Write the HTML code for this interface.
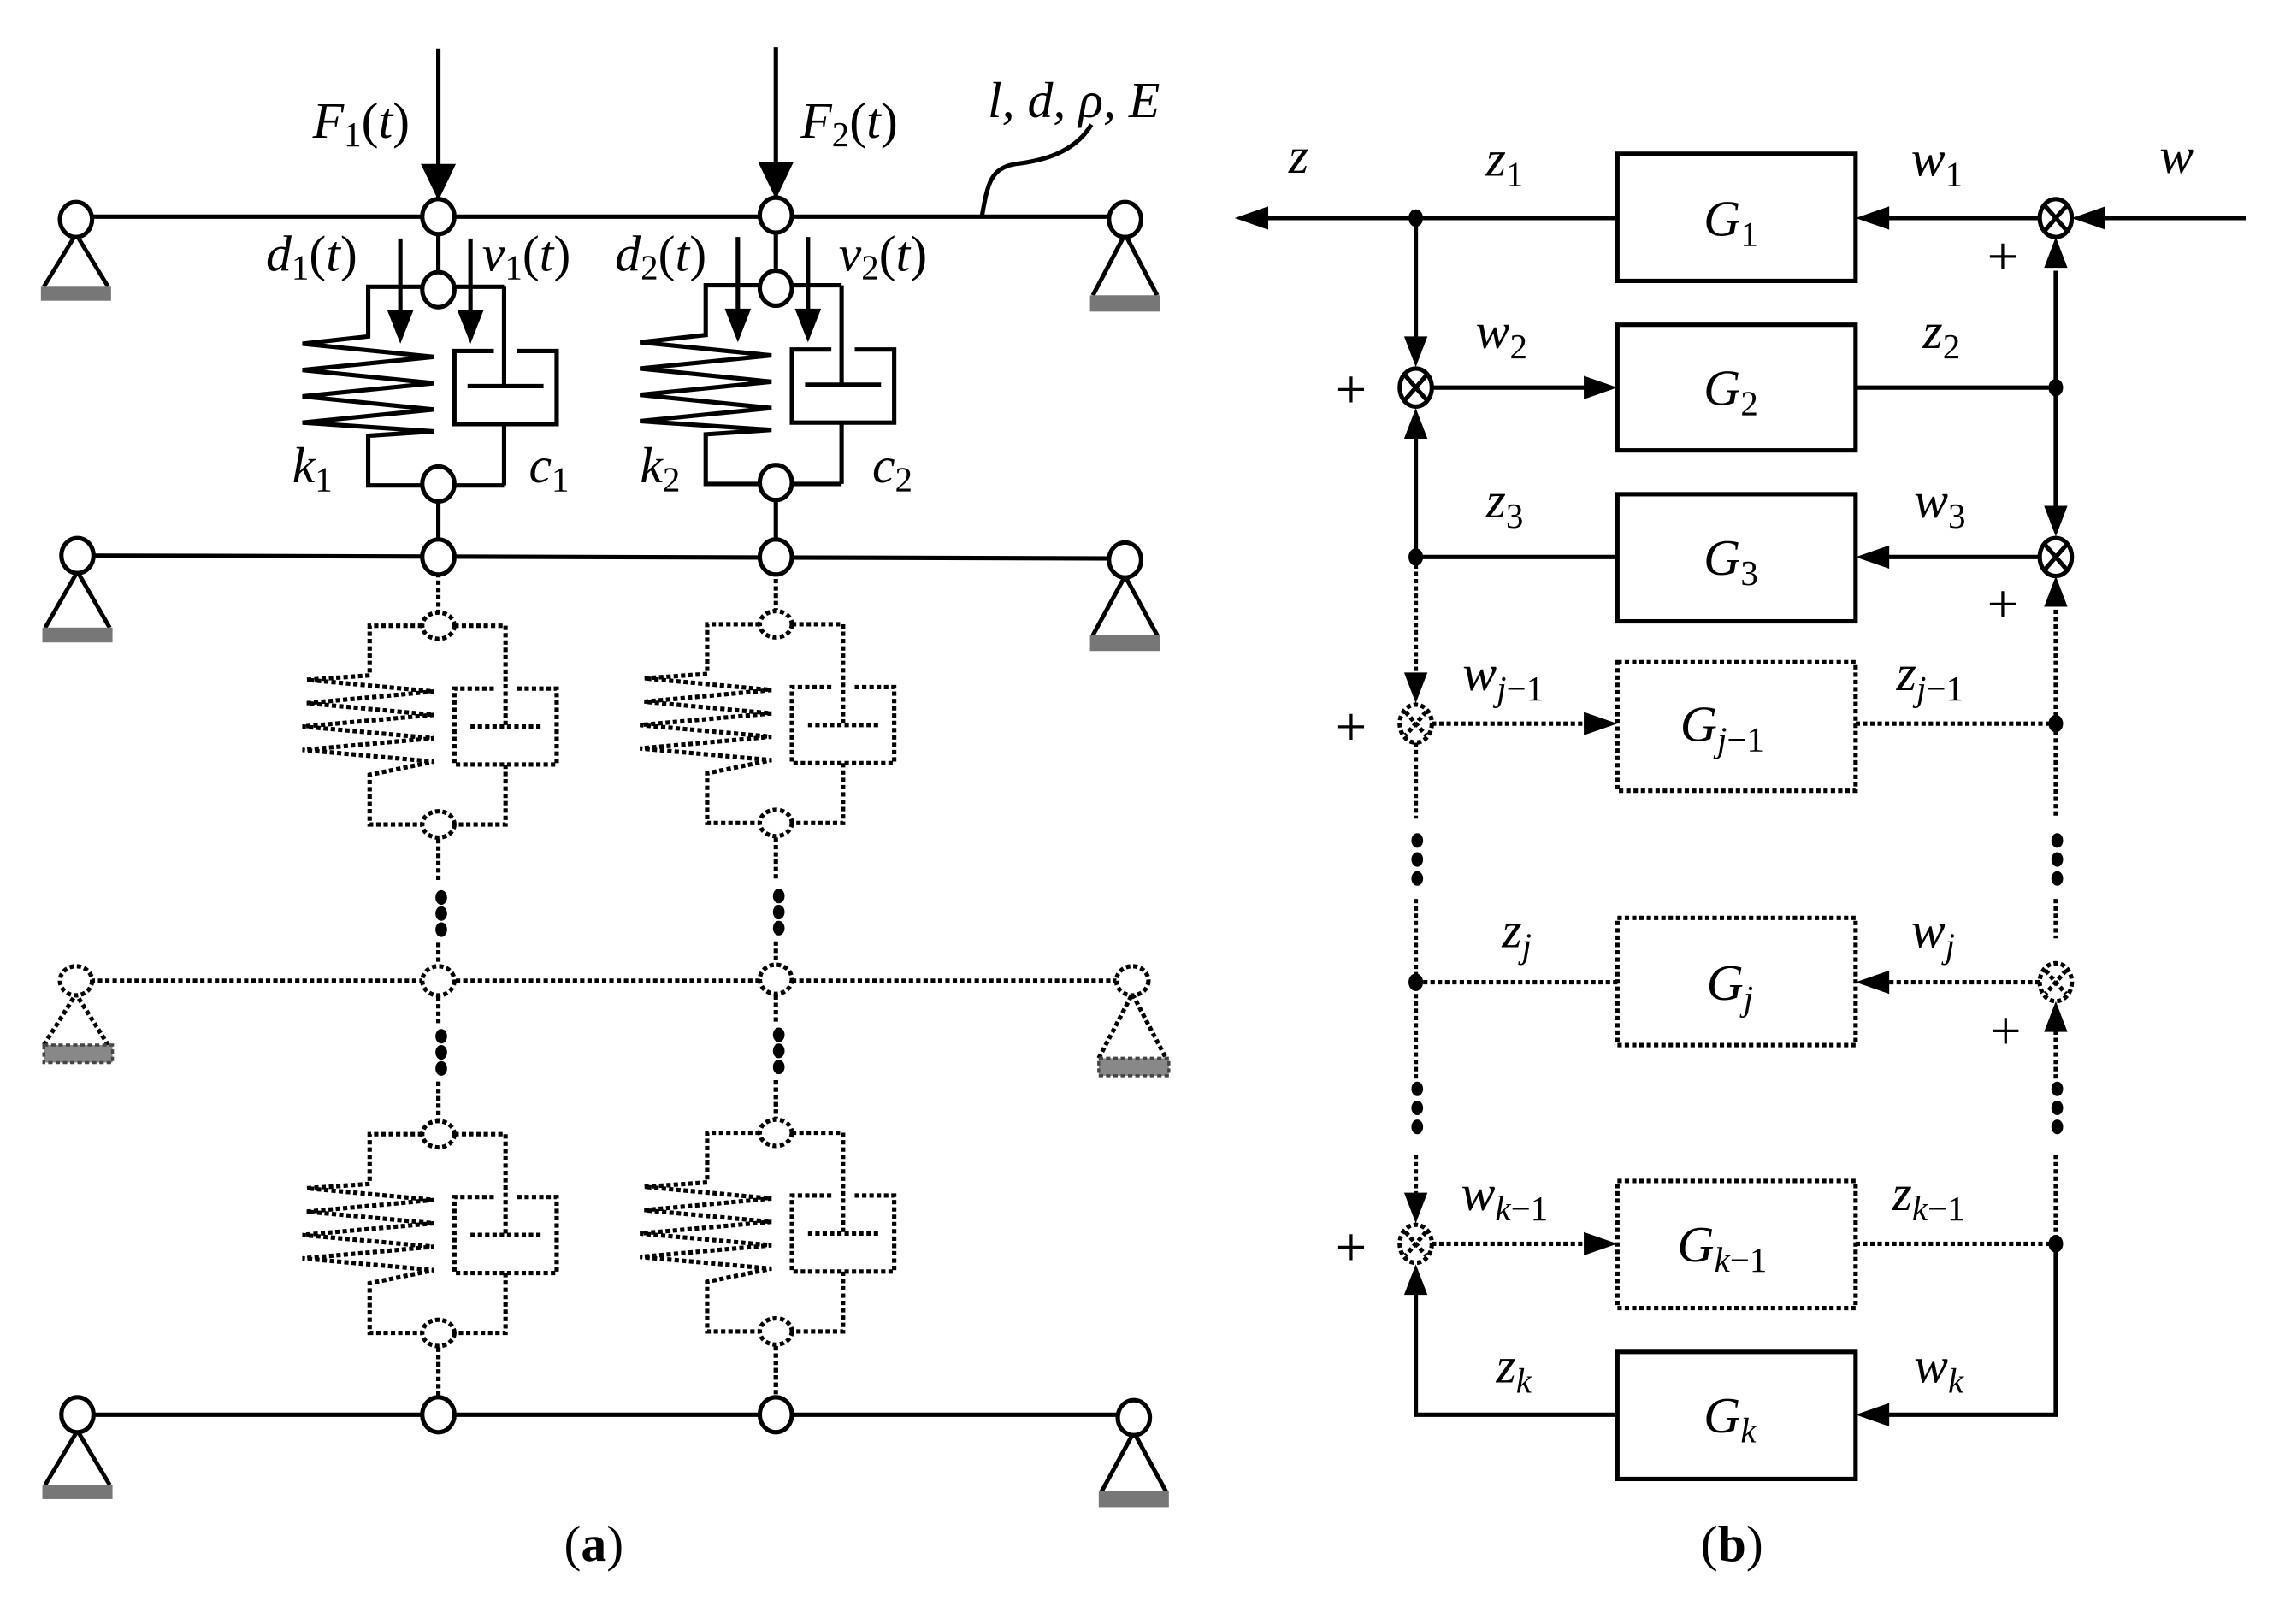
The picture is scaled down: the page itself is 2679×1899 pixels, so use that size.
<!DOCTYPE html>
<html><head><meta charset="utf-8"><style>
html,body{margin:0;padding:0;background:#fff}
svg{display:block}
text{font-family:"Liberation Serif",serif;font-style:italic;fill:#000}
.u{font-style:normal}
</style></head><body>
<svg width="2679" height="1899" viewBox="0 0 1568 1111" xmlns="http://www.w3.org/2000/svg">
<defs>
<g id="solidmod">
  <line x1="300" y1="33" x2="300" y2="136" stroke="#000" stroke-width="3"/>
  <polygon points="288,112 312,112 300,137" fill="#000"/>
  <line x1="300" y1="158" x2="300" y2="186" stroke="#000" stroke-width="3"/>
  <polyline points="345,196 252,196 252,230 207,235 297,244 207,253 297,262 207,271 297,280 207,289 297,295 252,298 252,332 345,332" fill="none" stroke="#000" stroke-width="3"/>
  <line x1="345" y1="196" x2="345" y2="264" stroke="#000" stroke-width="3"/>
  <line x1="320" y1="264" x2="372" y2="264" stroke="#000" stroke-width="3"/>
  <polyline points="338,240 311,240 311,290 381,290 381,240 354,240" fill="none" stroke="#000" stroke-width="3"/>
  <line x1="345" y1="290" x2="345" y2="332" stroke="#000" stroke-width="3"/>
  <line x1="300" y1="343" x2="300" y2="370" stroke="#000" stroke-width="3"/>
  <line x1="274" y1="163" x2="274" y2="215" stroke="#000" stroke-width="3"/>
  <polygon points="265,212 283,212 274,235" fill="#000"/>
  <line x1="322" y1="163" x2="322" y2="215" stroke="#000" stroke-width="3"/>
  <polygon points="313,212 331,212 322,235" fill="#000"/>
  <ellipse cx="300" cy="148" rx="11" ry="12" fill="#fff" stroke="#000" stroke-width="3"/>
  <ellipse cx="300" cy="198" rx="11" ry="12" fill="#fff" stroke="#000" stroke-width="3"/>
  <ellipse cx="300" cy="331" rx="11" ry="12" fill="#fff" stroke="#000" stroke-width="3"/>
</g>
<g id="dotmod" fill="none" stroke="#000" stroke-width="3" stroke-dasharray="3 2">
  <line x1="300" y1="392" x2="300" y2="418"/>
  <polyline points="289,428 253,428 253,462"/>
  <polyline points="311,428 346,428 346,497"/>
  <polyline points="253,462 210,465 297,473 210,481 297,489 207,497 297,505 207,513 297,521 253,530 253,564 289,564"/>
  <polyline points="338,471 311,471 311,523 381,523 381,471 354,471"/>
  <line x1="322" y1="497" x2="372" y2="497"/>
  <polyline points="346,523 346,564 311,564"/>
  <ellipse cx="300" cy="428" rx="11" ry="9"/>
  <ellipse cx="300" cy="564" rx="11" ry="9"/>
  <line x1="300" y1="574" x2="300" y2="603"/>
</g>
<g id="col">
  <use href="#solidmod"/>
  <use href="#dotmod"/>
  <g fill="#000"><ellipse cx="302" cy="614" rx="4" ry="5"/><ellipse cx="302" cy="625" rx="4" ry="5"/><ellipse cx="302" cy="636" rx="4" ry="5"/>
  <ellipse cx="302" cy="709" rx="4" ry="5"/><ellipse cx="302" cy="720" rx="4" ry="5"/><ellipse cx="302" cy="731" rx="4" ry="5"/></g>
  <line x1="300" y1="645" x2="300" y2="660" stroke="#000" stroke-width="3" stroke-dasharray="3 2"/>
  <line x1="300" y1="682" x2="300" y2="700" stroke="#000" stroke-width="3" stroke-dasharray="3 2"/>
  <ellipse cx="300" cy="671" rx="11" ry="10" fill="#fff" stroke="#000" stroke-width="3" stroke-dasharray="3 2"/>
  <line x1="300" y1="740" x2="300" y2="766" stroke="#000" stroke-width="3" stroke-dasharray="3 2"/>
  <use href="#dotmod" transform="translate(0,348)"/>
  <line x1="300" y1="922" x2="300" y2="956" stroke="#000" stroke-width="3" stroke-dasharray="3 2"/>
</g>
<g id="sup">
  <polyline points="-22,45 0,0 22,45" fill="none" stroke="#000" stroke-width="3"/>
  <rect x="-24" y="45" width="48" height="12" fill="#777"/>
</g>
</defs>

<!-- beams -->
<line x1="52" y1="148" x2="770" y2="148" stroke="#000" stroke-width="3"/>
<line x1="52" y1="380" x2="770" y2="382" stroke="#000" stroke-width="3"/>
<line x1="52" y1="671" x2="775" y2="671" stroke="#000" stroke-width="3" stroke-dasharray="3 2"/>
<line x1="52" y1="968" x2="775" y2="968" stroke="#000" stroke-width="3"/>
<path d="M672,148 C676,125 678,115 695,112 C712,110 735,105 747,85" fill="none" stroke="#000" stroke-width="3"/>

<use href="#col"/>
<use href="#col" transform="translate(231,-1)"/>

<!-- beam nodes -->
<g fill="#fff" stroke="#000" stroke-width="3">
<ellipse cx="300" cy="381" rx="11" ry="12"/><ellipse cx="531" cy="381" rx="11" ry="12"/>
<ellipse cx="300" cy="968" rx="11" ry="12"/><ellipse cx="531" cy="968" rx="11" ry="12"/>
</g>

<!-- supports -->
<use href="#sup" transform="translate(52,160) scale(1,0.8)"/>
<use href="#sup" transform="translate(770,160) scale(1,0.93)"/>
<use href="#sup" transform="translate(53,391) scale(1,0.85)"/>
<use href="#sup" transform="translate(770,394) scale(1,0.9)"/>
<use href="#sup" transform="translate(53,979) scale(1,0.82)"/>
<use href="#sup" transform="translate(776,980) scale(1,0.9)"/>
<g stroke="#000" stroke-width="3" fill="none" stroke-dasharray="3 2">
<polyline points="30,715 52,680 74,715"/><polyline points="752,724 775,680 798,724"/>
</g>
<rect x="30" y="715" width="47" height="12" fill="#888" stroke="#444" stroke-width="2" stroke-dasharray="3 2"/>
<rect x="752" y="724" width="48" height="12" fill="#888" stroke="#444" stroke-width="2" stroke-dasharray="3 2"/>
<g fill="#fff" stroke="#000" stroke-width="3">
<ellipse cx="52" cy="150" rx="11" ry="12"/><ellipse cx="770" cy="150" rx="11" ry="12"/>
<ellipse cx="53" cy="380" rx="11" ry="12"/><ellipse cx="770" cy="383" rx="11" ry="12"/>
<ellipse cx="53" cy="968" rx="11" ry="12"/><ellipse cx="776" cy="970" rx="11" ry="12"/>
</g>
<g fill="#fff" stroke="#000" stroke-width="3" stroke-dasharray="3 2">
<ellipse cx="52" cy="671" rx="11" ry="10"/><ellipse cx="775" cy="671" rx="11" ry="10"/>
</g>

<!-- labels a -->
<g font-size="35">
<text x="214" y="94">F<tspan class="u" font-size="24" dy="6">1</tspan><tspan class="u" dy="-6">(</tspan>t<tspan class="u">)</tspan></text>
<text x="548" y="94">F<tspan class="u" font-size="24" dy="6">2</tspan><tspan class="u" dy="-6">(</tspan>t<tspan class="u">)</tspan></text>
<text x="676" y="80">l, d, ρ, E</text>
<text x="182" y="185">d<tspan class="u" font-size="24" dy="6">1</tspan><tspan class="u" dy="-6">(</tspan>t<tspan class="u">)</tspan></text>
<text x="330" y="185">v<tspan class="u" font-size="24" dy="6">1</tspan><tspan class="u" dy="-6">(</tspan>t<tspan class="u">)</tspan></text>
<text x="421" y="185">d<tspan class="u" font-size="24" dy="6">2</tspan><tspan class="u" dy="-6">(</tspan>t<tspan class="u">)</tspan></text>
<text x="574" y="185">v<tspan class="u" font-size="24" dy="6">2</tspan><tspan class="u" dy="-6">(</tspan>t<tspan class="u">)</tspan></text>
<text x="200" y="330">k<tspan class="u" font-size="24" dy="6">1</tspan></text>
<text x="362" y="330">c<tspan class="u" font-size="24" dy="6">1</tspan></text>
<text x="438" y="330">k<tspan class="u" font-size="24" dy="6">2</tspan></text>
<text x="597" y="330">c<tspan class="u" font-size="24" dy="6">2</tspan></text>
<text class="u" x="386" y="1068">(<tspan font-weight="bold">a</tspan>)</text>
<text class="u" x="1164" y="1068">(<tspan font-weight="bold">b</tspan>)</text>
</g>

<!-- ===== block diagram ===== -->
<g stroke="#000" stroke-width="3" fill="none">
<rect x="1107" y="105" width="163" height="87"/>
<rect x="1107" y="222" width="163" height="86"/>
<rect x="1107" y="338" width="163" height="87"/>
<rect x="1107" y="925" width="163" height="87"/>
<line x1="1537" y1="149" x2="1440" y2="149"/>
<line x1="1396" y1="149" x2="1290" y2="149"/>
<line x1="1107" y1="149" x2="865" y2="149"/>
<line x1="969" y1="149" x2="969" y2="235"/>
<line x1="980" y1="265" x2="1088" y2="265"/>
<line x1="1270" y1="265" x2="1407" y2="265"/>
<line x1="1407" y1="265" x2="1407" y2="185"/>
<line x1="1407" y1="265" x2="1407" y2="352"/>
<line x1="1396" y1="381" x2="1290" y2="381"/>
<line x1="1107" y1="381" x2="969" y2="381"/>
<line x1="969" y1="381" x2="969" y2="295"/>
<polyline points="1107,968 969,968 969,885"/>
<polyline points="1407,851 1407,968 1290,968"/>
</g>
<g stroke="#000" stroke-width="3" fill="none" stroke-dasharray="3 2">
<rect x="1107" y="453" width="163" height="88"/>
<rect x="1107" y="628" width="163" height="87"/>
<rect x="1107" y="808" width="163" height="87"/>
<line x1="969" y1="381" x2="969" y2="465"/>
<line x1="980" y1="495" x2="1088" y2="495"/>
<line x1="1270" y1="495" x2="1407" y2="495"/>
<line x1="1407" y1="495" x2="1407" y2="412"/>
<line x1="969" y1="508" x2="969" y2="560"/>
<line x1="1407" y1="495" x2="1407" y2="560"/>
<line x1="969" y1="615" x2="969" y2="740"/>
<line x1="1407" y1="615" x2="1407" y2="642"/>
<line x1="1396" y1="672" x2="1290" y2="672"/>
<line x1="1107" y1="672" x2="969" y2="672"/>
<line x1="1407" y1="700" x2="1407" y2="740"/>
<line x1="969" y1="790" x2="969" y2="821"/>
<line x1="1407" y1="790" x2="1407" y2="851"/>
<line x1="980" y1="851" x2="1088" y2="851"/>
<line x1="1270" y1="851" x2="1407" y2="851"/>
</g>
<g fill="#000">
<polygon points="845,149 868,141 868,157"/>
<polygon points="1418,149 1441,141 1441,157"/>
<polygon points="1270,149 1293,141 1293,157"/>
<polygon points="969,251 961,230 977,230"/>
<polygon points="1107,265 1084,257 1084,273"/>
<polygon points="1407,162 1399,183 1415,183"/>
<polygon points="1407,367 1399,346 1415,346"/>
<polygon points="1270,381 1293,373 1293,389"/>
<polygon points="969,279 961,300 977,300"/>
<polygon points="969,481 961,460 977,460"/>
<polygon points="1107,495 1084,487 1084,503"/>
<polygon points="1407,394 1399,415 1415,415"/>
<polygon points="1270,672 1293,664 1293,680"/>
<polygon points="1407,685 1399,706 1415,706"/>
<polygon points="969,837 961,816 977,816"/>
<polygon points="1107,851 1084,843 1084,859"/>
<polygon points="969,865 961,886 977,886"/>
<polygon points="1270,968 1293,960 1293,976"/>
<ellipse cx="969" cy="149" rx="5" ry="6"/>
<ellipse cx="1407" cy="265" rx="5" ry="6"/>
<ellipse cx="969" cy="381" rx="5" ry="6"/>
<ellipse cx="1407" cy="495" rx="5" ry="6"/>
<ellipse cx="969" cy="672" rx="5" ry="6"/>
<ellipse cx="1407" cy="851" rx="5" ry="6"/>
<ellipse cx="970" cy="575" rx="4" ry="5"/><ellipse cx="970" cy="588" rx="4" ry="5"/><ellipse cx="970" cy="601" rx="4" ry="5"/>
<ellipse cx="1408" cy="575" rx="4" ry="5"/><ellipse cx="1408" cy="588" rx="4" ry="5"/><ellipse cx="1408" cy="601" rx="4" ry="5"/>
<ellipse cx="970" cy="745" rx="4" ry="5"/><ellipse cx="970" cy="758" rx="4" ry="5"/><ellipse cx="970" cy="771" rx="4" ry="5"/>
<ellipse cx="1408" cy="745" rx="4" ry="5"/><ellipse cx="1408" cy="758" rx="4" ry="5"/><ellipse cx="1408" cy="771" rx="4" ry="5"/>
</g>
<g fill="#fff" stroke="#000" stroke-width="3">
<ellipse cx="1407" cy="149" rx="11" ry="13"/><path d="M1400,141 L1414,157 M1414,141 L1400,157"/>
<ellipse cx="969" cy="265" rx="11" ry="13"/><path d="M962,257 L976,273 M976,257 L962,273"/>
<ellipse cx="1407" cy="381" rx="11" ry="13"/><path d="M1400,373 L1414,389 M1414,373 L1400,389"/>
</g>
<g fill="#fff" stroke="#000" stroke-width="3" stroke-dasharray="3 2">
<ellipse cx="969" cy="495" rx="11" ry="13"/><path d="M962,487 L976,503 M976,487 L962,503"/>
<ellipse cx="1407" cy="672" rx="11" ry="13"/><path d="M1400,664 L1414,680 M1414,664 L1400,680"/>
<ellipse cx="969" cy="851" rx="11" ry="13"/><path d="M962,843 L976,859 M976,843 L962,859"/>
</g>
<g font-size="35">
<text x="1166" y="161">G<tspan class="u" font-size="24" dy="7">1</tspan></text>
<text x="1166" y="277">G<tspan class="u" font-size="24" dy="7">2</tspan></text>
<text x="1166" y="393">G<tspan class="u" font-size="24" dy="7">3</tspan></text>
<text x="1150" y="507">G<tspan font-size="24" dy="7">j</tspan><tspan class="u" font-size="24">−1</tspan></text>
<text x="1168" y="684">G<tspan font-size="24" dy="7">j</tspan></text>
<text x="1148" y="863">G<tspan font-size="24" dy="7">k</tspan><tspan class="u" font-size="24">−1</tspan></text>
<text x="1166" y="980">G<tspan font-size="24" dy="7">k</tspan></text>
<text x="882" y="118">z</text>
<text x="1017" y="120">z<tspan class="u" font-size="24" dy="7">1</tspan></text>
<text x="1308" y="120">w<tspan class="u" font-size="24" dy="7">1</tspan></text>
<text x="1478" y="118">w</text>
<text x="1010" y="238">w<tspan class="u" font-size="24" dy="7">2</tspan></text>
<text x="1316" y="238">z<tspan class="u" font-size="24" dy="7">2</tspan></text>
<text x="1017" y="354">z<tspan class="u" font-size="24" dy="7">3</tspan></text>
<text x="1310" y="354">w<tspan class="u" font-size="24" dy="7">3</tspan></text>
<text x="1001" y="472">w<tspan font-size="24" dy="7">j</tspan><tspan class="u" font-size="24">−1</tspan></text>
<text x="1298" y="472">z<tspan font-size="24" dy="7">j</tspan><tspan class="u" font-size="24">−1</tspan></text>
<text x="1028" y="648">z<tspan font-size="24" dy="7">j</tspan></text>
<text x="1308" y="648">w<tspan font-size="24" dy="7">j</tspan></text>
<text x="1000" y="828">w<tspan font-size="24" dy="7">k</tspan><tspan class="u" font-size="24">−1</tspan></text>
<text x="1295" y="828">z<tspan font-size="24" dy="7">k</tspan><tspan class="u" font-size="24">−1</tspan></text>
<text x="1024" y="946">z<tspan font-size="24" dy="7">k</tspan></text>
<text x="1310" y="946">w<tspan font-size="24" dy="7">k</tspan></text>
</g>
<g font-size="38">
<text class="u" x="1360" y="188">+</text>
<text class="u" x="914" y="279">+</text>
<text class="u" x="1360" y="426">+</text>
<text class="u" x="914" y="510">+</text>
<text class="u" x="1362" y="718">+</text>
<text class="u" x="914" y="866">+</text>
</g>
</svg>
</body></html>
